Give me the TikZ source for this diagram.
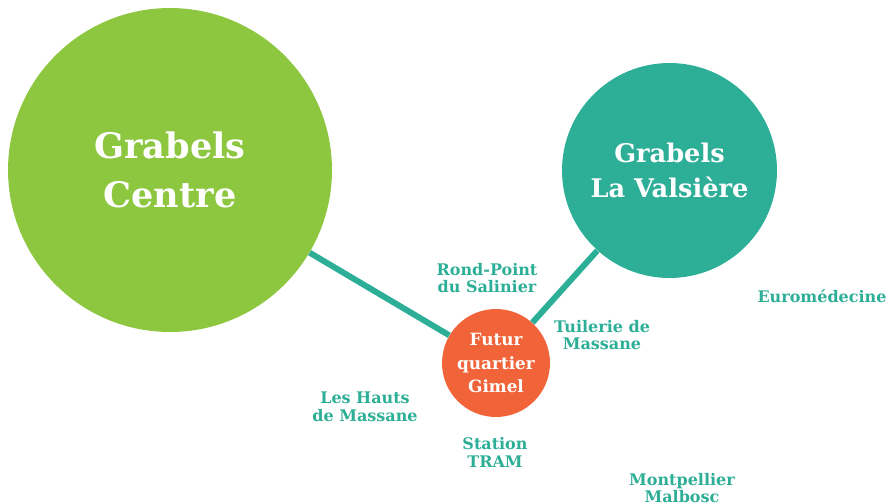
\documentclass[tikz,border=0pt]{standalone}
\usepackage{fontspec}
\setmainfont{DejaVu Serif}
\definecolor{vert}{HTML}{8DC63F}
\definecolor{turquoise}{HTML}{2DAE97}
\definecolor{orange}{HTML}{F1643A}
\begin{document}
\begin{tikzpicture}[x=0.02cm, y=-0.02cm,
    pole/.style={circle, inner sep=0pt, text=white, align=center, font=\bfseries},
    arret/.style={text=turquoise, align=center, inner sep=0pt, font=\bfseries\fontsize{9.1}{10.2}\selectfont},
    liaison/.style={turquoise, line width=3.4pt}]

        \useasboundingbox (0,0) rectangle (890,504);

        \node[pole, fill=vert, minimum size=6.48cm, font=\bfseries\fontsize{20}{27.5}\selectfont] (GC) at (170,170) {Grabels\\Centre};
        \node[pole, fill=turquoise, minimum size=4.3cm, font=\bfseries\fontsize{14.6}{20}\selectfont] (GV) at (669.5,170.5) {Grabels\\La Valsière};
        \node[pole, fill=orange, minimum size=2.16cm, font=\bfseries\fontsize{9.6}{13.3}\selectfont] (FG) at (496,363) {Futur\\quartier\\Gimel};

        \node[arret] (RP) at (487,278) {Rond-Point\\du Salinier};
        \node[arret] (TM) at (602,335) {Tuilerie de\\Massane};
        \node[arret] (HM) at (365,407) {Les Hauts\\de Massane};
        \node[arret] (ST) at (495,452) {Station\\TRAM};
        \node[arret] (EU) at (822,296) {Euromédecine};
        \node[arret] (MM) at (682,488) {Montpellier\\Malbosc};

        \draw[liaison] (GC) -- (FG);
        \draw[liaison] (FG) -- (GV);

\end{tikzpicture}
\end{document}
